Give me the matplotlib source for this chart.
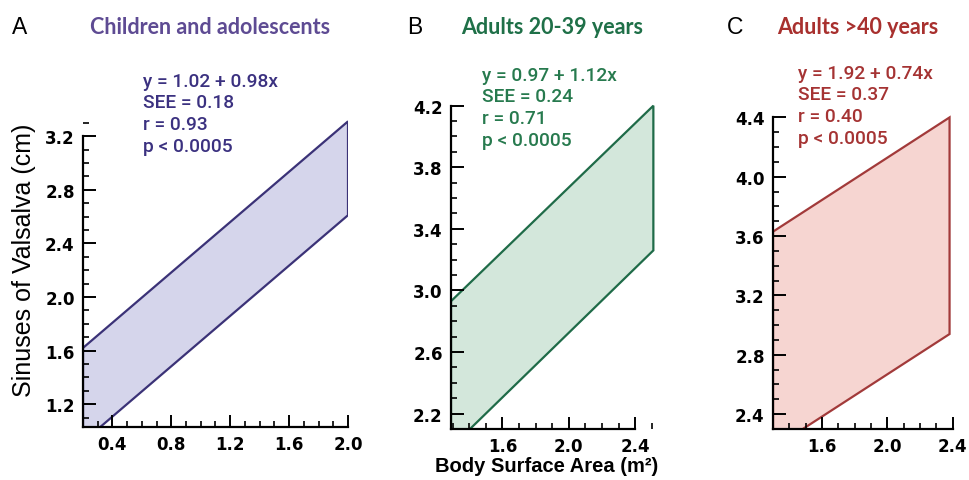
import matplotlib
matplotlib.use("Agg")
import matplotlib.pyplot as plt
from matplotlib.ticker import MultipleLocator

W, H = 970, 481

# band edges: x at left/right, upper and lower line values
a_x = [0.2, 2.0]
a_upper = [1.62, 3.31]
a_lower = [0.92, 2.61]

b_x = [1.29, 2.51]
b_upper = [2.93, 4.20]
b_lower = [1.98, 3.26]

c_x = [1.30, 2.38]
c_upper = [3.63, 4.40]
c_lower = [2.17, 2.94]

titles = ["Children and adolescents", "Adults 20-39 years", "Adults >40 years"]
letters = ["A", "B", "C"]
stats = [
    ["y = 1.02 + 0.98x", "SEE = 0.18", "r = 0.93", "p < 0.0005"],
    ["y = 0.97 + 1.12x", "SEE = 0.24", "r = 0.71", "p < 0.0005"],
    ["y = 1.92 + 0.74x", "SEE = 0.37", "r = 0.40", "p < 0.0005"],
]
a_yticks = [1.2, 1.6, 2.0, 2.4, 2.8, 3.2]
a_xticks = [0.4, 0.8, 1.2, 1.6, 2.0]
b_yticks = [2.2, 2.6, 3.0, 3.4, 3.8, 4.2]
b_xticks = [1.6, 2.0, 2.4]
c_yticks = [2.4, 2.8, 3.2, 3.6, 4.0, 4.4]
c_xticks = [1.6, 2.0, 2.4]

line_cols = ["#3b3277", "#1f6b48", "#a23a3a"]
fill_cols = ["#d5d5eb", "#d3e7db", "#f6d5d1"]
text_cols = ["#3b3180", "#277a4e", "#a53333"]
title_cols = ["#5e4b93", "#1f7048", "#a8302e"]


def fx(px):
    return px / W


def fy(py):
    return 1 - py / H


fig = plt.figure(figsize=(9.7, 4.81), dpi=100)
fig.patch.set_facecolor("white")

panels = [
    # pixel box (x0, x1, ytop, ybottom), xlim, ylim, spine bounds
    dict(box=(83, 348, 117, 428), xlim=(0.2, 2.0), ylim=(1.03, 3.35),
         xb=(0.2, 2.0), yb=(1.03, 3.2), x=a_x, up=a_upper, lo=a_lower,
         xt=a_xticks, yt=a_yticks, txt=(143, 82), let=(12, 27), tit=(90, 27)),
    dict(box=(451, 660, 99, 430), xlim=(1.29, 2.55), ylim=(2.1, 4.25),
         xb=(1.29, 2.4), yb=(2.1, 4.2), x=b_x, up=b_upper, lo=b_lower,
         xt=b_xticks, yt=b_yticks, txt=(482, 76), let=(407, 27), tit=(461, 27)),
    dict(box=(773, 961, 111, 430), xlim=(1.3, 2.45), ylim=(2.3, 4.45),
         xb=(1.3, 2.4), yb=(2.3, 4.4), x=c_x, up=c_upper, lo=c_lower,
         xt=c_xticks, yt=c_yticks, txt=(798, 74), let=(727, 27), tit=(777, 27)),
]

for i, p in enumerate(panels):
    x0, x1, yt, yb = p["box"]
    ax = fig.add_axes([fx(x0), fy(yb), (x1 - x0) / W, (yb - yt) / H])
    ax.set_xlim(*p["xlim"])
    ax.set_ylim(*p["ylim"])
    ax.patch.set_alpha(0)

    xs = p["x"]
    poly_x = [xs[0], xs[1], xs[1], xs[0]]
    poly_y = [p["up"][0], p["up"][1], p["lo"][1], p["lo"][0]]
    ax.fill(poly_x, poly_y, facecolor=fill_cols[i], edgecolor=line_cols[i],
            linewidth=1.6, zorder=1)

    for s in ["top", "right"]:
        ax.spines[s].set_visible(False)
    ax.spines["left"].set_bounds(*p["yb"])
    ax.spines["bottom"].set_bounds(*p["xb"])
    for s in ["left", "bottom"]:
        ax.spines[s].set_linewidth(1.6)
        ax.spines[s].set_zorder(3)

    ax.set_xticks(p["xt"])
    ax.set_yticks(p["yt"])
    ax.xaxis.set_minor_locator(MultipleLocator(0.1))
    ax.yaxis.set_minor_locator(MultipleLocator(0.1))
    ax.tick_params(which="major", direction="in", length=9, width=1.4,
                   labelsize=12, pad=6)
    ax.tick_params(which="minor", direction="in", length=4, width=1.2)
    for lab in ax.get_xticklabels() + ax.get_yticklabels():
        lab.set_fontweight("bold")
        lab.set_family("DejaVu Sans")

    tx, ty = p["txt"]
    for k, line in enumerate(stats[i]):
        fig.text(fx(tx), fy(ty + k * 21.5), line, color=text_cols[i],
                 fontsize=13.8, family="Roboto", fontweight="medium",
                 va="center", ha="left")

    lx, ly = p["let"]
    fig.text(fx(lx), fy(ly), letters[i], fontsize=16.5, family="Liberation Sans",
             va="center", ha="left", color="black")
    tx2, ty2 = p["tit"]
    fig.text(fx(tx2), fy(ty2), titles[i], fontsize=15.5, family="Lato",
             fontweight="bold", va="center", ha="left", color=title_cols[i])

fig.text(fx(24), fy(260), "Sinuses of Valsalva (cm)", rotation=90, fontsize=18,
         family="Liberation Sans", va="center", ha="center")
fig.text(fx(547), fy(467), "Body Surface Area (m²)", fontsize=14.5,
         family="Liberation Sans", fontweight="bold", va="center", ha="center")

fig.savefig("out.png", dpi=100)
